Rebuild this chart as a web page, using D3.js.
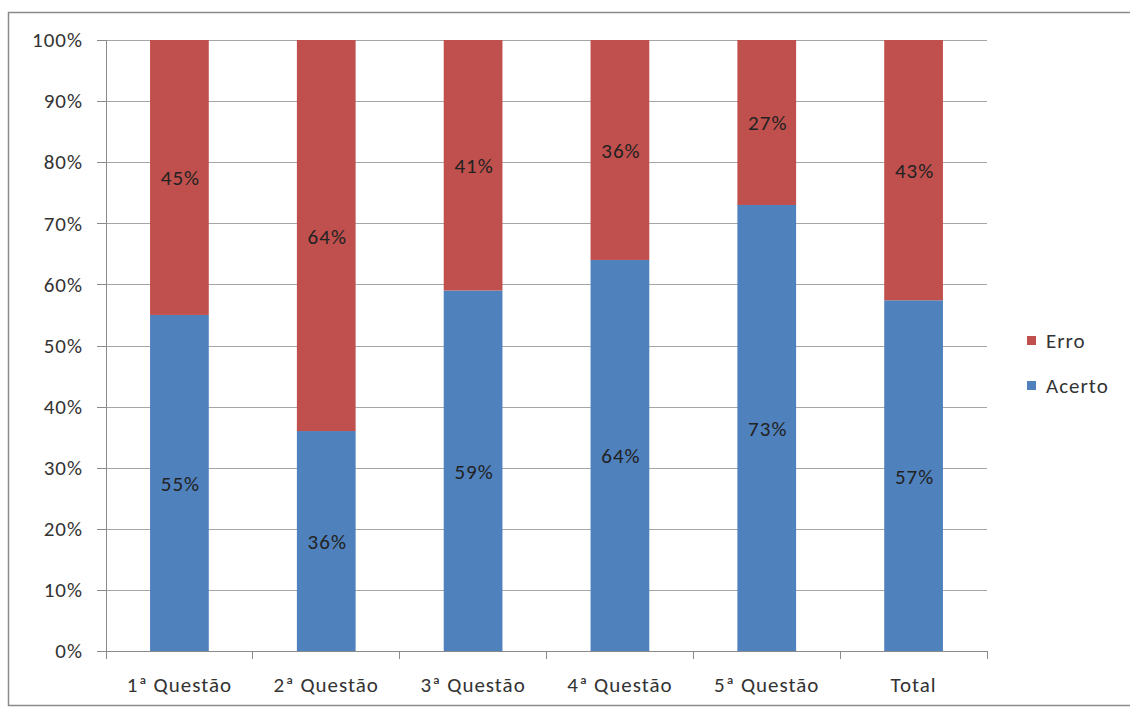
<!DOCTYPE html>
<html>
<head>
<meta charset="utf-8">
<script src="https://cdn.jsdelivr.net/npm/d3@7"></script>
<style>
  body { margin: 0; background: #fff; }
  svg text { font-family: Carlito, Calibri, Lato, sans-serif; letter-spacing: 1px; }
</style>
</head>
<body>
<div id="chart"></div>
<script>
'use strict';
// Chart data
const categories = ['1ª Questão', '2ª Questão', '3ª Questão', '4ª Questão', '5ª Questão', 'Total']
const acerto = [55, 36, 59, 64, 73, 57.4]
const erro = [45, 64, 41, 36, 27, 42.6]
const yTicks = [0, 10, 20, 30, 40, 50, 60, 70, 80, 90, 100]
const seriesNames = ['Erro', 'Acerto']

const W = 1130, H = 709
const plot = { left: 106, right: 987, top: 40, bottom: 651 }
const fontSize = 21

const svg = d3.select('#chart').append('svg')
  .attr('width', W)
  .attr('height', H)

// Outer chart border
svg.append('rect')
  .attr('x', 8.5).attr('y', 12.5)
  .attr('width', W + 10).attr('height', 693)
  .attr('fill', '#fff')
  .attr('stroke', '#8a8a8a')
  .attr('stroke-width', 1.5)

const x = d3.scaleBand().domain(categories).range([plot.left, plot.right]).paddingInner(0.6).paddingOuter(0.3)
const xOuter = d3.scaleBand().domain(categories).range([plot.left, plot.right])
const y = d3.scaleLinear().domain([0, 100]).range([plot.bottom, plot.top])

// Horizontal gridlines
svg.append('g')
  .attr('transform', `translate(${plot.left},0)`)
  .call(d3.axisLeft(y).tickValues(yTicks).tickSize(-(plot.right - plot.left)).tickFormat(''))
  .call(g => g.select('.domain').remove())
  .call(g => g.selectAll('line').attr('stroke', '#a6a6a6').attr('shape-rendering', 'crispEdges'))

// Y axis
svg.append('g')
  .attr('transform', `translate(${plot.left},0)`)
  .call(d3.axisLeft(y).tickValues(yTicks).tickSize(9).tickPadding(14).tickFormat(d => `${d}%`))
  .call(g => g.select('.domain').attr('stroke', '#8a8a8a').attr('shape-rendering', 'crispEdges'))
  .call(g => g.selectAll('line').attr('stroke', '#8a8a8a').attr('shape-rendering', 'crispEdges'))
  .call(g => g.selectAll('text').attr('font-size', fontSize).attr('fill', '#333'))

// Stacked bars
const rows = categories.map((c, i) => ({ cat: c, Acerto: acerto[i], Erro: erro[i] }))
const stack = d3.stack().keys(['Acerto', 'Erro'])(rows)
const colors = { Acerto: '#4F81BD', Erro: '#C0504D' }

stack.forEach(layer => {
  const g = svg.append('g')
  g.selectAll('rect').data(layer).join('rect')
    .attr('x', d => x(d.data.cat))
    .attr('width', x.bandwidth())
    .attr('y', d => y(d[1]))
    .attr('height', d => y(d[0]) - y(d[1]))
    .attr('fill', colors[layer.key])
  g.selectAll('text').data(layer).join('text')
    .attr('x', d => x(d.data.cat) + x.bandwidth() / 2 + 1)
    .attr('y', d => (y(d[0]) + y(d[1])) / 2 + 8)
    .attr('text-anchor', 'middle')
    .attr('font-size', fontSize)
    .attr('fill', '#222')
    .text(d => `${Math.round(d.data[layer.key])}%`)
})

// X axis
svg.append('g')
  .attr('transform', `translate(0,${plot.bottom})`)
  .call(d3.axisBottom(xOuter).tickSize(0).tickPadding(26))
  .call(g => g.select('.domain').attr('stroke', '#8a8a8a').attr('d', `M${plot.left},0H${plot.right}`).attr('shape-rendering', 'crispEdges'))
  .call(g => g.selectAll('text').attr('font-size', fontSize).attr('fill', '#333'))
svg.append('g')
  .selectAll('line')
  .data(categories.map(c => xOuter(c)).concat([plot.right]))
  .join('line')
  .attr('x1', d => d).attr('x2', d => d)
  .attr('y1', plot.bottom).attr('y2', plot.bottom + 8)
  .attr('stroke', '#8a8a8a')
  .attr('shape-rendering', 'crispEdges')

// Legend
const legend = svg.append('g').attr('transform', 'translate(1027,0)')
seriesNames.forEach((name, i) => {
  const ly = 341 + i * 45
  legend.append('rect')
    .attr('x', 0).attr('y', ly - 5)
    .attr('width', 9).attr('height', 9)
    .attr('fill', colors[name])
  legend.append('text')
    .attr('x', 19).attr('y', ly + 7)
    .attr('font-size', fontSize)
    .attr('fill', '#333')
    .text(name)
})
</script>
</body>
</html>
